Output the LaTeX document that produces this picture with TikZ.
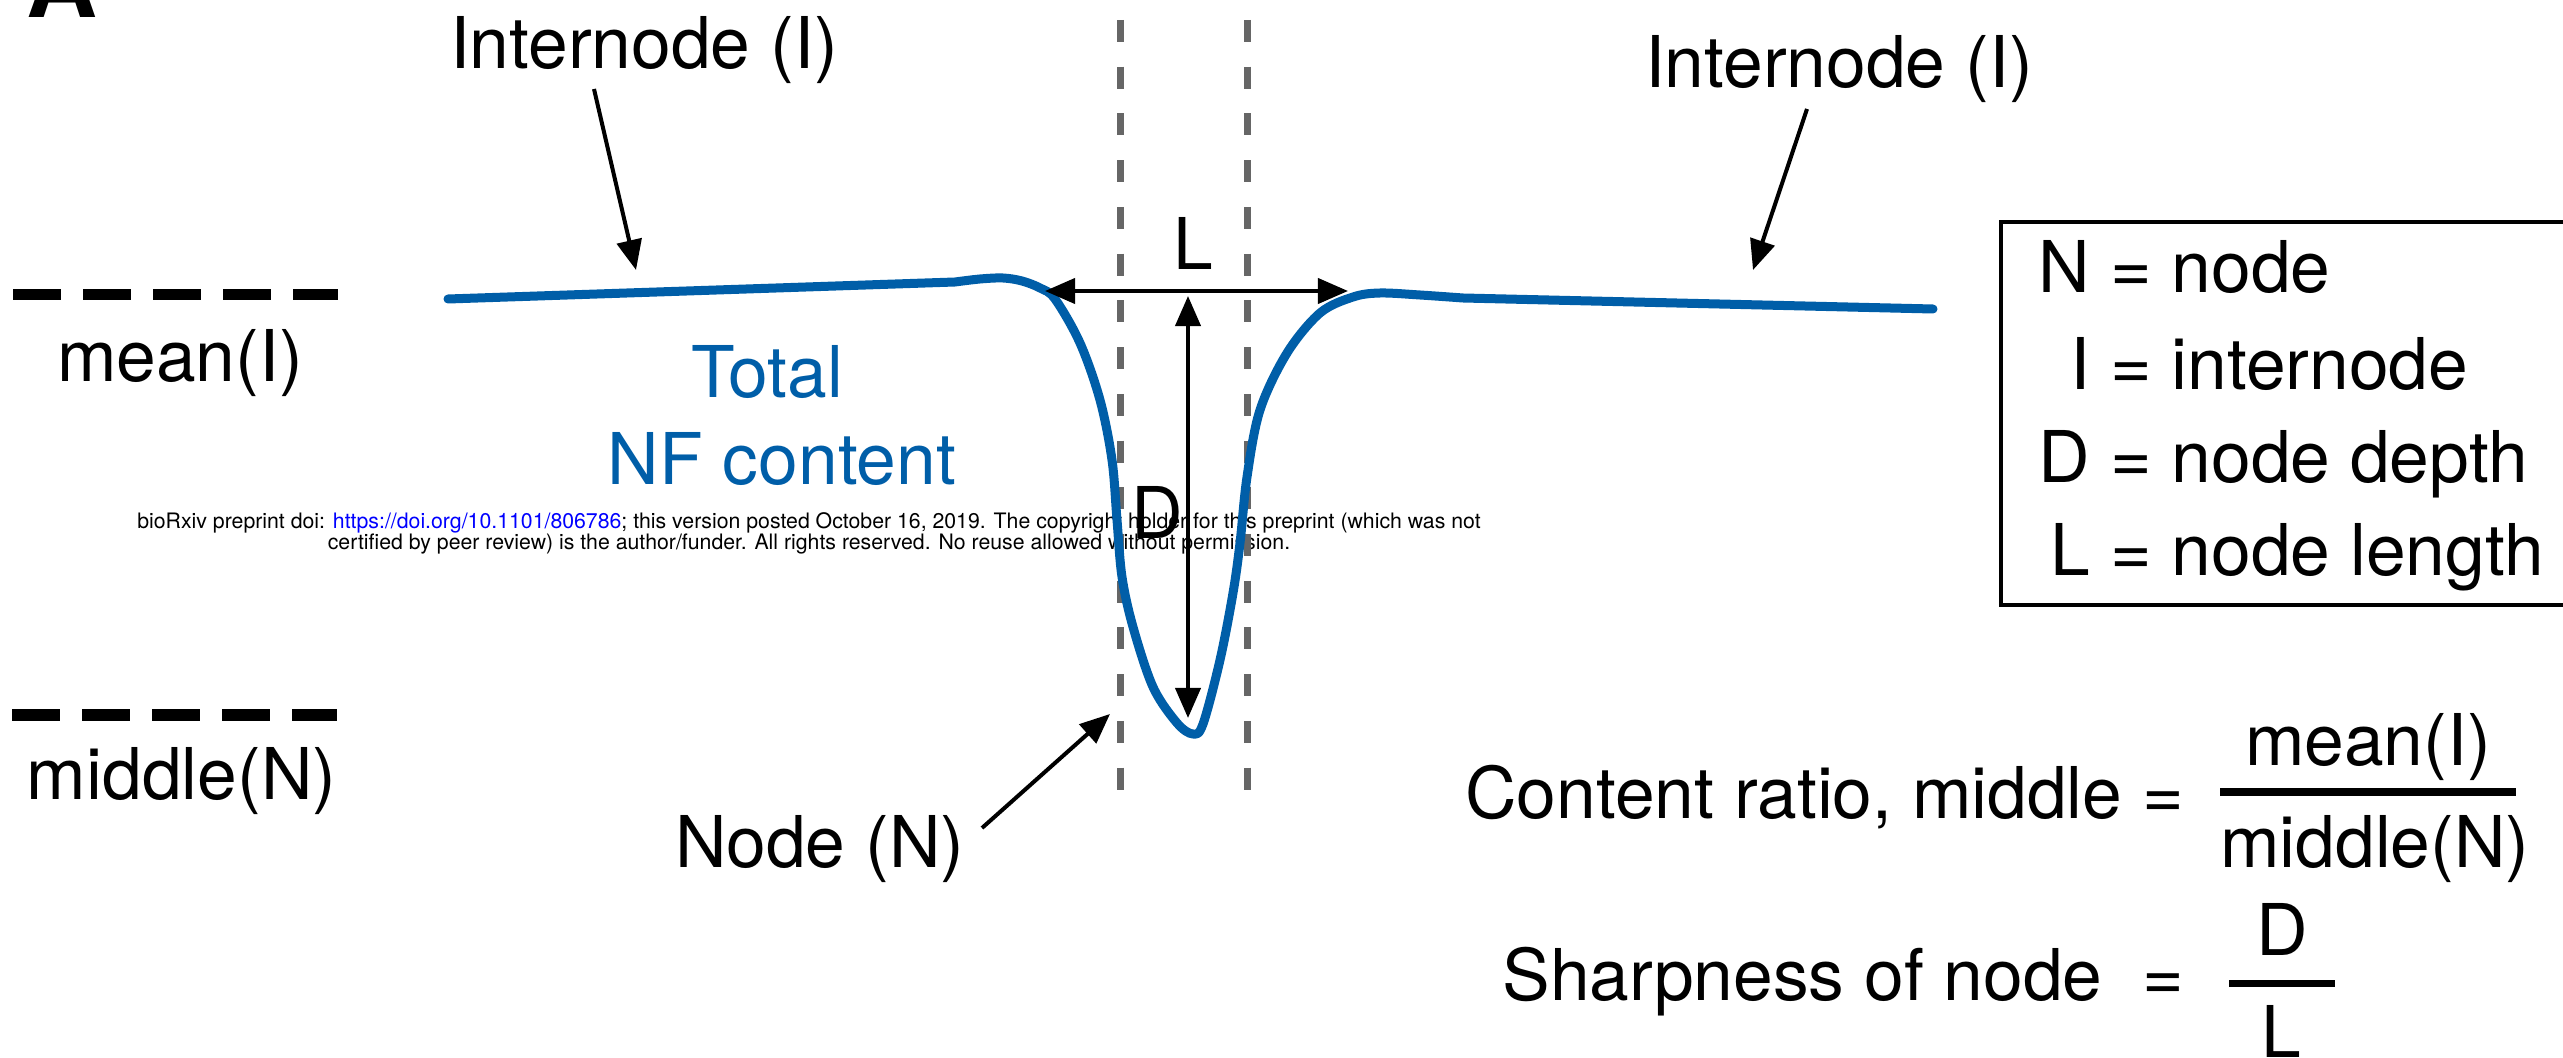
\documentclass[tikz,border=0pt]{standalone}
\usepackage{fontspec}
\setmainfont{TeX Gyre Heros}
\usepackage{xcolor}
\usetikzlibrary{arrows.meta}
\definecolor{nfblue}{HTML}{005EA8}
\definecolor{guide}{HTML}{666666}

\begin{document}
\begin{tikzpicture}[x=0.01cm, y=-0.01cm, >={Triangle[length=0.3cm, width=0.25cm]}, font=\fontsize{20.3}{24}\selectfont, line width=0.04cm]
  \tikzset{
    lbl/.style={inner sep=0pt, anchor=base west},
    level/.style={line width=0.11cm, dash pattern=on 0.48cm off 0.22cm},
    guideline/.style={guide, line width=0.07cm, dash pattern=on 0.22cm off 0.247cm},
    profile/.style={nfblue, line width=0.09cm, line cap=round, line join=round},
    fracbar/.style={line width=0.07cm}
  }
  \useasboundingbox (0,0) rectangle (2563,1058);

  % Panel letter (cut off at the top)
  \node[inner sep=0pt, anchor=base, font=\fontsize{28}{34}\selectfont\bfseries] (panel) at (62,18) {A};

  % Preprint watermark
  \node[inner sep=0pt, anchor=base, font=\fontsize{6.05}{7}\selectfont] (preprintA) at (809,528)
    {bioRxiv preprint doi: \textcolor{blue}{https://doi.org/10.1101/806786}; this version posted October 16, 2019. The copyright holder for this preprint (which was not};
  \node[inner sep=0pt, anchor=base, font=\fontsize{6.05}{7}\selectfont] (preprintB) at (809,550)
    {certified by peer review) is the author/funder. All rights reserved. No reuse allowed without permission.};

  % 1. Reference levels
  \draw[level] (13,295) -- (338,295);
  \node[lbl] (meanI) at (55,382) {mean(I)};
  \draw[level] (12,715) -- (337,715);
  \node[lbl] (middleN) at (25,799) {middle(N)};

  % 2. Node borders
  \draw[guideline] (1120,20) -- (1120,791);
  \draw[guideline] (1247,20) -- (1247,791);

  % 3. NF profile along the axon
  \draw[profile] (448,299) -- (955,282)
    -- plot[smooth, tension=0.55] coordinates {(955,282) (980,279) (1003,278) (1022,281) (1040,288) (1055,299)
      (1080,343) (1100,400) (1112,460) (1117,520) (1122,577) (1133,627) (1153,687) (1177,723) (1193,734)
      (1203,724) (1220,660) (1233,593) (1240,543) (1247,477) (1260,410) (1287,353) (1320,313) (1353,297)
      (1380,293) (1420,295) (1463,298)}
    -- (1933,309);
  \node[inner sep=0pt, anchor=base, nfblue] (totalA) at (767,398) {Total};
  \node[inner sep=0pt, anchor=base, nfblue] (totalB) at (782,485) {NF content};

  % 4. Length and depth of the node
  \coordinate (lenL) at (1045,291);
  \coordinate (lenR) at (1348,291);
  \draw[<->] (lenL) -- (lenR);
  \node[inner sep=0pt, anchor=base] (lenLbl) at (1193,270) {L};
  \coordinate (depT) at (1188,296);
  \coordinate (depB) at (1188,718);
  \draw[<->] (depT) -- (depB);
  \node[inner sep=0pt, anchor=base] (depLbl) at (1157,538) {D};

  % 5. Pointers
  \node[lbl] (interA) at (448,69) {Internode (I)};
  \coordinate (interAfrom) at (594,89);
  \coordinate (interAto) at (636,270);
  \draw[->] (interAfrom) -- (interAto);
  \node[lbl] (interB) at (1643,88) {Internode (I)};
  \coordinate (interBfrom) at (1807,109);
  \coordinate (interBto) at (1753,270);
  \draw[->] (interBfrom) -- (interBto);
  \node[lbl] (nodeN) at (673,867) {Node (N)};
  \coordinate (nodeNfrom) at (982,828);
  \coordinate (nodeNto) at (1110,714);
  \draw[->] (nodeNfrom) -- (nodeNto);

  % 6. Legend
  \draw (2600,222) -- (2001,222) -- (2001,605) -- (2600,605);
  \node[inner sep=0pt, anchor=base] (defN) at (2131,293) {\llap{N\ }=\rlap{\ node}};
  \node[inner sep=0pt, anchor=base] (defI) at (2131,390) {\llap{I\ }=\rlap{\ internode}};
  \node[inner sep=0pt, anchor=base] (defD) at (2131,482) {\llap{D\ }=\rlap{\ node depth}};
  \node[inner sep=0pt, anchor=base] (defL) at (2131,575) {\llap{L\ }=\rlap{\ node length}};

  % 7. Ratios
  \node[inner sep=0pt, anchor=base east] (ratioTxt) at (2186,818) {Content ratio, middle =};
  \draw[fracbar] (2220,792) -- (2516,792);
  \node[inner sep=0pt, anchor=base] (ratioNum) at (2368,765) {mean(I)};
  \node[inner sep=0pt, anchor=base] (ratioDen) at (2375,867) {middle(N)};
  \node[inner sep=0pt, anchor=base east] (sharpTxt) at (2186,1000) {Sharpness of node\ \ =};
  \draw[fracbar] (2229,983) -- (2335,983);
  \node[inner sep=0pt, anchor=base] (sharpNum) at (2282,955) {D};
  \node[inner sep=0pt, anchor=base] (sharpDen) at (2281,1057) {L};

\end{tikzpicture}
\end{document}
